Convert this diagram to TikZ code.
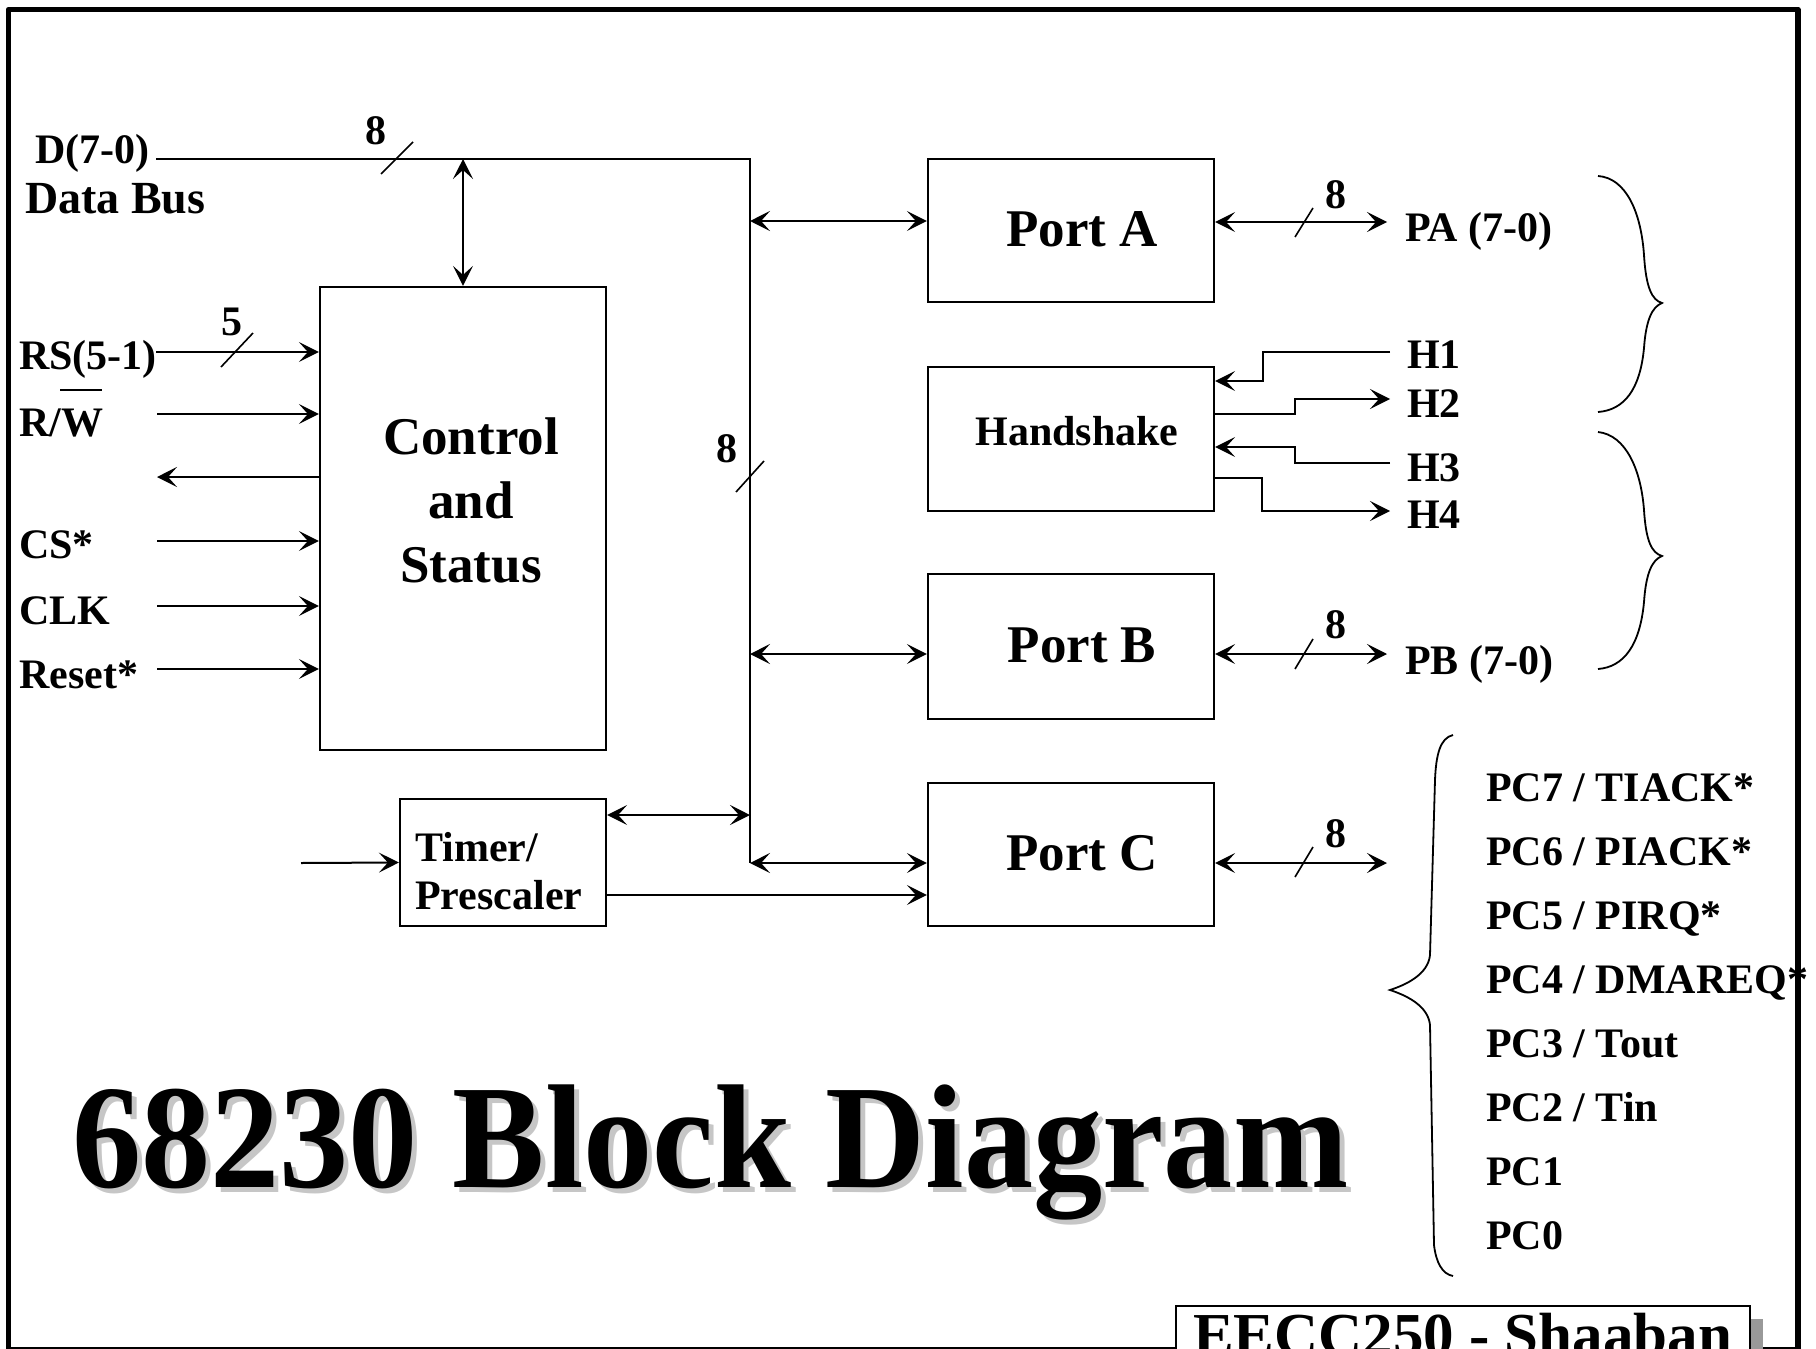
\documentclass[tikz,border=0pt]{standalone}
\usepackage{fontspec}
\setmainfont{Liberation Serif}
\usetikzlibrary{arrows.meta,calc}
\begin{document}
\begin{tikzpicture}[x=1pt,y=-1pt]
\tikzset{
  lw/.style={line width=2pt},
  arr/.style={lw,-{Stealth[length=20pt,width=20pt,inset=9pt]}},
  darr/.style={lw,{Stealth[length=20pt,width=20pt,inset=9pt]}-{Stealth[length=20pt,width=20pt,inset=9pt]}},
  blk/.style={draw,line width=2.2pt,inner sep=0pt,minimum width=286pt},
  txt/.style={font=\fontsize{42}{48}\selectfont\bfseries,inner sep=0pt},
  lbl/.style={txt,anchor=base west},
  btxt/.style={font=\fontsize{53}{64}\selectfont\bfseries,inner sep=0pt},
  slash/.style={line width=1.6pt},
  brace/.style={line width=1.8pt},
}
\useasboundingbox (0,0) rectangle (1816,1349);
\clip (0,0) rectangle (1816,1349);
% frame
\draw[line width=5.5pt,line join=round] (8.5,9.5) rectangle (1798,1350);

% blocks
\node[blk,minimum width=286pt,minimum height=463pt] (ctrl) at (463,518.5) {};
\node[btxt,align=center] (ctrlt) at (471,500) {Control\\and\\Status};
\node[blk,minimum width=206pt,minimum height=127pt] (timer) at (503,862.5) {};
\node[txt,align=left,anchor=west] (timert) at (415,871) {Timer/\\Prescaler};
\node[blk,minimum height=143pt] (pa) at (1071,230.5) {};
\node[btxt] (pat) at (1082,229) {Port A};
\node[blk,minimum height=144pt] (hs) at (1071,439) {};
\node[txt] (hst) at (1077,431) {Handshake};
\node[blk,minimum height=145pt] (pb) at (1071,646.5) {};
\node[btxt] (pbt) at (1082,645) {Port B};
\node[blk,minimum height=143pt] (pc) at (1071,854.5) {};
\node[btxt] (pct) at (1082,853) {Port C};

% left labels
\node[lbl] (dl) at (35,163) {D(7-0)};
\node[lbl,font=\fontsize{46}{50}\selectfont\bfseries] (dbl) at (25,213) {Data Bus};
\node[lbl] (rsl) at (19,369) {RS(5-1)};
\node[lbl] (rwl) at (19,436) {R/W};
\draw[lw] (60,390) -- (102,390);
\node[lbl] (csl) at (19,558) {CS*};
\node[lbl] (clkl) at (19,624) {CLK};
\node[lbl] (rstl) at (19,688) {Reset*};

% data bus
\coordinate (busL) at (156,159);
\coordinate (busR) at (750,159);
\coordinate (busB) at (750,863);
\draw[lw] (busL) -- (busR) -- (busB);
\draw[slash] (381,174) -- (413,142);
\node[txt] (n8a) at (376,131) {8};
\draw[darr] (ctrl.north |- busL) -- (ctrl.north);
\draw[slash] (736,492) -- (764,461);
\node[txt] (n8b) at (727,449) {8};

% control inputs
\coordinate (rsS) at (156,352);
\coordinate (rwS) at (157,414);
\coordinate (outE) at (157,477);
\coordinate (csS) at (157,541);
\coordinate (clkS) at (157,606);
\coordinate (rstS) at (157,669);
\draw[arr] (rsS) -- (rsS -| ctrl.west);
\draw[slash] (221,367) -- (253,333);
\node[txt] (n5) at (232,322) {5};
\draw[arr] (rwS) -- (rwS -| ctrl.west);
\draw[arr] (outE -| ctrl.west) -- (outE);
\draw[arr] (csS) -- (csS -| ctrl.west);
\draw[arr] (clkS) -- (clkS -| ctrl.west);
\draw[arr] (rstS) -- (rstS -| ctrl.west);

% timer
\coordinate (tin) at (301,863);
\draw[arr] (tin) -- (timer.west);
\coordinate (tb) at (750,815);
\draw[darr] (tb -| timer.east) -- (tb);
\coordinate (tp) at (750,895);
\draw[arr] (tp -| timer.east) -- (tp -| pc.west);

% bus to ports
\coordinate (bA) at (750,221);
\coordinate (bB) at (750,654);
\draw[darr] (bA) -- (bA -| pa.west);
\draw[darr] (bB) -- (bB -| pb.west);
\draw[darr] (busB) -- (busB -| pc.west);

% port outputs
\coordinate (paE) at (1387,222);
\coordinate (pbE) at (1387,654);
\coordinate (pcE) at (1387,863);
\draw[darr] (paE -| pa.east) -- (paE);
\draw[darr] (pbE -| pb.east) -- (pbE);
\draw[darr] (pcE -| pc.east) -- (pcE);
\draw[slash] (1295,237) -- (1313,208);
\draw[slash] (1295,669) -- (1313,639);
\draw[slash] (1295,877) -- (1313,847);
\node[txt] (n8c) at (1336,195) {8};
\node[txt] (n8d) at (1336,625) {8};
\node[txt] (n8e) at (1336,834) {8};
\node[lbl] (pal) at (1405,241) {PA (7-0)};
\node[lbl] (pbl) at (1405,674) {PB (7-0)};

% handshake
\node[lbl] (h1) at (1407,368) {H1};
\node[lbl] (h2) at (1407,417) {H2};
\node[lbl] (h3) at (1407,481) {H3};
\node[lbl] (h4) at (1407,528) {H4};
\coordinate (h1s) at (1390,352);
\coordinate (h1k) at (1263,381);
\draw[arr] (h1s) -| (h1k) -- (h1k -| hs.east);
\coordinate (h2e) at (1390,399);
\coordinate (h2k) at (1295,414);
\draw[arr] (h2k -| hs.east) -- (h2k) |- (h2e);
\coordinate (h3s) at (1390,463);
\coordinate (h3k) at (1295,447);
\draw[arr] (h3s) -| (h3k) -- (h3k -| hs.east);
\coordinate (h4e) at (1390,511);
\coordinate (h4k) at (1262,478);
\draw[arr] (h4k -| hs.east) -- (h4k) |- (h4e);

% braces
\draw[brace] (1598,176) .. controls (1626,178) and (1641,212) .. (1644,255)
  .. controls (1646,288) and (1652,300) .. (1662,303)
  .. controls (1652,307) and (1646,320) .. (1644,348)
  .. controls (1640,390) and (1624,410) .. (1598,412);
\draw[brace] (1598,432) .. controls (1626,435) and (1641,470) .. (1644,510)
  .. controls (1646,542) and (1652,553) .. (1662,556)
  .. controls (1652,560) and (1646,573) .. (1644,602)
  .. controls (1640,645) and (1624,667) .. (1598,669);
\draw[brace] (1453,735) .. controls (1440,738) and (1436,755) .. (1435,780)
  -- (1430,955) .. controls (1428,975) and (1405,985) .. (1390,990)
  .. controls (1405,995) and (1428,1005) .. (1430,1025)
  -- (1434,1245) .. controls (1436,1262) and (1442,1274) .. (1453,1276);

% port C pins
\foreach \t [count=\i] in {PC7 / TIACK*,PC6 / PIACK*,PC5 / PIRQ*,PC4 / DMAREQ*,PC3 / Tout,PC2 / Tin,PC1,PC0}
  \node[lbl] (pc\i) at (1486,{737+64*\i}) {\t};

% title
\node[font=\fontsize{148}{160}\selectfont\bfseries,inner sep=0pt,anchor=base west,xscale=0.935,text=gray!45] (titles) at (77,1192) {68230 Block Diagram};
\node[font=\fontsize{148}{160}\selectfont\bfseries,inner sep=0pt,anchor=base west,xscale=0.935] (title) at (72,1187) {68230 Block Diagram};

% footer
\fill[gray!80] (1189,1319) rectangle (1763,1400);
\node[draw,line width=2pt,fill=white,minimum width=574pt,minimum height=90pt,anchor=north west,inner sep=0pt] (ftr) at (1175,1305) {};
\node[font=\fontsize{61}{64}\selectfont\bfseries,inner sep=0pt,anchor=base west] (ftrt) at (1193,1355) {EECC250 - Shaaban};
\end{tikzpicture}
\end{document}
